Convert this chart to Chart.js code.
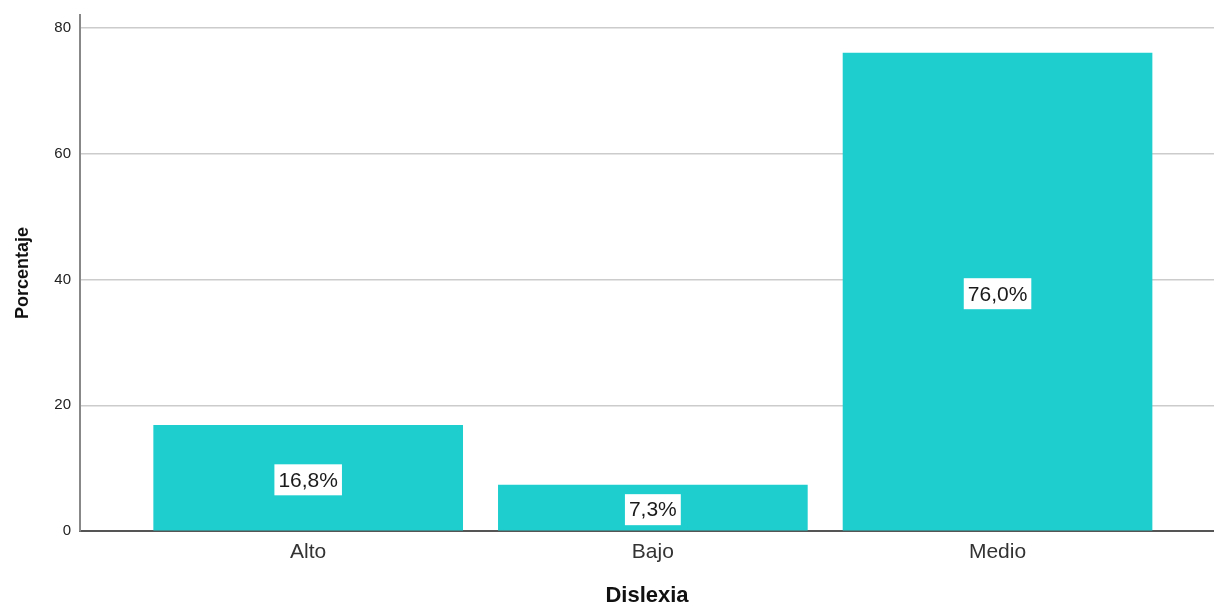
<!DOCTYPE html>
<html><head><meta charset="utf-8">
<script src="https://cdn.jsdelivr.net/npm/chart.js@4"></script>
<style>html,body{margin:0;padding:0;background:#fff;}#wrap{width:1214px;height:606px;}</style>
</head><body><div id="wrap"><canvas id="c"></canvas></div>
<script>
const categories = ["Alto", "Bajo", "Medio"];
const percentages = [16.8, 7.3, 76.0];
const yTicks = [0, 20, 40, 60, 80];
const xTitle = "Dislexia";
const yTitle = "Porcentaje";

const labelPlugin = {
  id: 'boxLabels',
  afterDatasetsDraw(chart) {
    const ctx = chart.ctx;
    const meta = chart.getDatasetMeta(0);
    ctx.save();
    ctx.font = '21px "Liberation Sans", Arial, sans-serif';
    ctx.textAlign = 'center';
    ctx.textBaseline = 'middle';
    meta.data.forEach((bar, i) => {
      const txt = percentages[i].toFixed(1).replace('.', ',') + '%';
      const w = ctx.measureText(txt).width + 8;
      const h = 31;
      const cy = (bar.y + bar.base) / 2;
      ctx.fillStyle = '#ffffff';
      ctx.fillRect(bar.x - w / 2, cy - h / 2 + 2, w, h);
      ctx.fillStyle = '#1a1a1a';
      ctx.fillText(txt, bar.x, cy + 3);
    });
    ctx.restore();
  }
};

new Chart(document.getElementById('c'), {
  type: 'bar',
  data: {
    datasets: [{
      data: percentages.map((v, i) => ({x: i, y: v})),
      backgroundColor: '#1ececf',
      borderWidth: 0,
      barThickness: 309
    }]
  },
  options: {
    responsive: true,
    maintainAspectRatio: false,
    animation: false,
    layout: {padding: {top: 15, right: 0, left: 0, bottom: 0}},
    plugins: {legend: {display: false}, tooltip: {enabled: false}},
    scales: {
      x: {
        type: 'linear',
        offset: false,
        min: -0.662,
        max: 2.628,
        afterBuildTicks: s => { s.ticks = categories.map((c, i) => ({value: i})); },
        afterFit: s => { s.height = 75; s.paddingLeft = 0; s.paddingRight = 0; },
        grid: {display: false, drawTicks: false, offset: false},
        border: {display: true, color: '#555555', width: 2},
        ticks: {
          callback: (v) => categories[v],
          font: {family: '"Liberation Sans", Arial, sans-serif', size: 21},
          color: '#333333',
          padding: 9,
          maxRotation: 0
        },
        title: {
          display: true, text: xTitle,
          font: {family: '"Liberation Sans", Arial, sans-serif', size: 22, weight: 'bold'},
          color: '#111111',
          padding: {top: 11, bottom: -3}
        }
      },
      y: {
        min: 0,
        max: 82.07,
        afterBuildTicks: s => { s.ticks = yTicks.map(v => ({value: v})); },
        afterFit: s => { s.width = 80; s.paddingTop = 0; s.paddingBottom = 0; },
        grid: {color: '#cccccc', lineWidth: 1.5, drawTicks: false},
        border: {display: true, color: '#888888', width: 2},
        ticks: {
          font: {family: '"Liberation Sans", Arial, sans-serif', size: 15},
          color: '#222222',
          padding: 9
        },
        title: {
          display: true, text: yTitle,
          font: {family: '"Liberation Sans", Arial, sans-serif', size: 18, weight: 'bold'},
          color: '#111111',
          padding: {top: 12, bottom: 0}
        }
      }
    }
  },
  plugins: [labelPlugin]
});
</script></body></html>
